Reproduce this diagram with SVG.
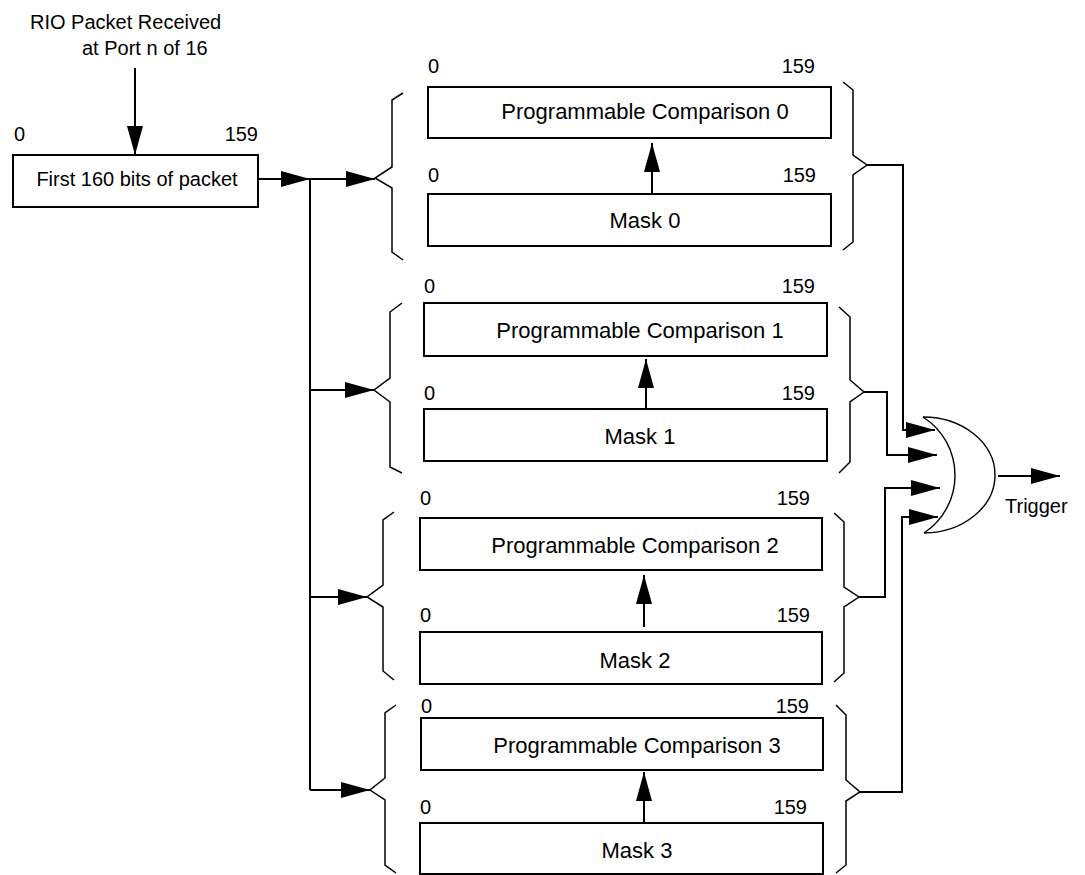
<svg xmlns="http://www.w3.org/2000/svg" width="1085" height="875" viewBox="0 0 1085 875">
<defs>
<style>
text{font-family:"Liberation Sans",Arial,sans-serif;fill:#000}
.t20{font-size:20px}
.t21{font-size:22px}
.mid{text-anchor:middle}
.end{text-anchor:end}
.box{fill:#fff;stroke:#000;stroke-width:2}
.br{fill:none;stroke:#000;stroke-width:1.5}
.ln{fill:none;stroke:#000;stroke-width:2}
.arr{marker-end:url(#ah)}
.gate{fill:none;stroke:#000;stroke-width:1.4}
</style>
<marker id="ah" markerUnits="userSpaceOnUse" markerWidth="30" markerHeight="16" refX="29" refY="8" orient="auto" overflow="visible">
<path d="M0,0 L29,8 L0,16 z" fill="#000"/>
</marker>
</defs>
<rect width="1085" height="875" fill="#fff"/>

<g id="title">
<text class="t20" x="30" y="29">RIO Packet Received</text>
<text class="t20" x="82" y="55">at Port n of 16</text>
</g>

<g id="packet">
<text class="t20" x="14" y="141">0</text>
<text class="t20 end" x="258" y="141">159</text>
<rect class="box" x="13" y="155" width="245" height="52"/>
<text class="t20 mid" x="137" y="186">First 160 bits of packet</text>
</g>

<g id="group0">
<path class="br" d="M403,93 L392,100 L392,167 L375,178 L392,188 L392,252 L403,260"/>
<path class="br" d="M843,82 L853,90 L853,155 L867,165 L853,175 L853,242 L843,250"/>
<text class="t20" x="428" y="73">0</text>
<text class="t20 end" x="815" y="73">159</text>
<rect class="box" x="428" y="87" width="403" height="51"/>
<text class="t21 mid" x="645" y="119">Programmable Comparison 0</text>
<text class="t20" x="428" y="182">0</text>
<text class="t20 end" x="816" y="182">159</text>
<rect class="box" x="428" y="194" width="403" height="52"/>
<text class="t21 mid" x="645" y="228">Mask 0</text>
</g>

<g id="group1">
<path class="br" d="M402,303 L390,312 L390,378 L374,390 L390,402 L390,467 L402,473"/>
<path class="br" d="M839,307 L850,317 L850,380 L864,392 L850,402 L850,462 L839,473"/>
<text class="t20" x="424" y="293">0</text>
<text class="t20 end" x="815" y="293">159</text>
<rect class="box" x="424" y="303" width="403" height="53"/>
<text class="t21 mid" x="640" y="338">Programmable Comparison 1</text>
<text class="t20" x="424" y="400">0</text>
<text class="t20 end" x="815" y="400">159</text>
<rect class="box" x="424" y="409" width="403" height="52"/>
<text class="t21 mid" x="640" y="444">Mask 1</text>
</g>

<g id="group2">
<path class="br" d="M394,512 L383,520 L383,585 L367,597 L383,607 L383,671 L394,680"/>
<path class="br" d="M834,513 L844,522 L844,587 L859,597 L844,607 L844,673 L834,682"/>
<text class="t20" x="420" y="505">0</text>
<text class="t20 end" x="810" y="505">159</text>
<rect class="box" x="420" y="518" width="402" height="52"/>
<text class="t21 mid" x="635" y="553">Programmable Comparison 2</text>
<text class="t20" x="420" y="622">0</text>
<text class="t20 end" x="810" y="622">159</text>
<rect class="box" x="420" y="632" width="402" height="52"/>
<text class="t21 mid" x="635" y="668">Mask 2</text>
</g>

<g id="group3">
<path class="br" d="M396,705 L385,713 L385,778 L370,790 L385,800 L385,865 L396,873"/>
<path class="br" d="M836,705 L846,715 L846,780 L860,792 L846,801 L846,865 L836,873"/>
<text class="t20" x="421" y="713">0</text>
<text class="t20 end" x="809" y="713">159</text>
<rect class="box" x="421" y="718" width="402" height="52"/>
<text class="t21 mid" x="637" y="753">Programmable Comparison 3</text>
<text class="t20" x="420" y="814">0</text>
<text class="t20 end" x="807" y="814">159</text>
<rect class="box" x="420" y="823" width="403" height="51"/>
<text class="t21 mid" x="637" y="858">Mask 3</text>
</g>

<g id="or_gate">
<path class="gate" d="M923,417 A69,69 0 0 1 955,475 A69,69 0 0 1 924,533"/>
<path class="gate" d="M923,417 A72,58 0 0 1 995,475 A72,58 0 0 1 924,533"/>
<text class="t20" x="1005" y="513">Trigger</text>
</g>

<g id="connectors">
<path class="ln arr" d="M135,68 L135,155"/>
<path class="ln arr" d="M258,179 L310,179"/>
<path class="ln" d="M310,179 L310,790"/>
<path class="ln arr" d="M310,179 L375,179"/>
<path class="ln arr" d="M310,390 L374,390"/>
<path class="ln arr" d="M310,597 L367,597"/>
<path class="ln arr" d="M310,790 L370,790"/>
<path class="ln arr" d="M652,194 L652,143"/>
<path class="ln arr" d="M646,409 L646,359"/>
<path class="ln arr" d="M644,627 L644,575"/>
<path class="ln arr" d="M644,823 L644,772"/>
<path class="ln arr" d="M867,165 L903,165 L903,430 L935,430"/>
<path class="ln arr" d="M864,392 L887,392 L887,455 L937,455"/>
<path class="ln arr" d="M859,597 L885,597 L885,488 L940,488"/>
<path class="ln arr" d="M860,792 L902,792 L902,517 L938,517"/>
<path class="ln arr" d="M998,476 L1060,476"/>
</g>
</svg>
